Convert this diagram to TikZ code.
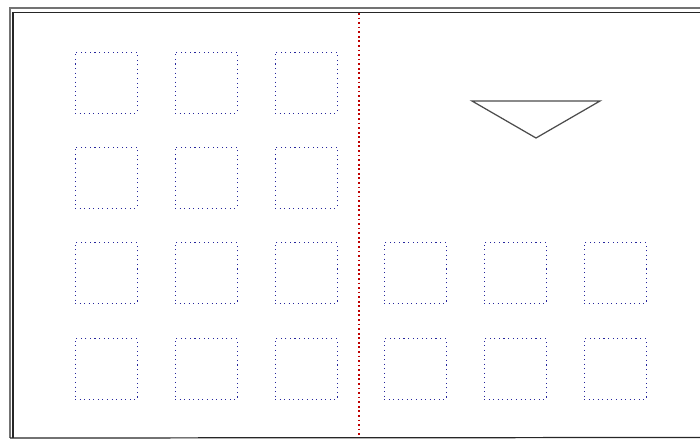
\documentclass[tikz,border=0pt]{standalone}
\usetikzlibrary{positioning}

\begin{document}
\begin{tikzpicture}[
  x=0.02cm,y=-0.02cm,
  cell/.style={draw=blue!55!black!85,line width=0.55pt,
    dash pattern=on 0.6pt off 2pt,
    minimum width=1.24cm,minimum height=1.22cm,inner sep=0pt},
  frame/.style={draw=black!85,line width=0.7pt},
  outerframe/.style={draw=black!55,line width=0.9pt},
  divider/.style={draw=red!75!black,line width=1pt,
    dash pattern=on 1pt off 1.6pt},
  roof/.style={draw=black!70,line width=0.7pt}]
\useasboundingbox (0,0) rectangle (700,442);

% frame corners
\coordinate (otl) at (10,8);
\coordinate (otr) at (700,8);
\coordinate (obl) at (10,438);
\coordinate (itl) at (13,12.5);
\coordinate (itr) at (700,12.5);
\coordinate (ibl) at (13,437.5);
\coordinate (ibr) at (700,437.5);
\draw[outerframe] (obl)--(otl)--(otr);
\draw[frame] (ibl)--(itl)--(itr);
\draw[frame] (obl)--(ibr);

% left block
\node[cell] (a1) at (106,82.5) {};
\node[cell] (a2) at (206,82.5) {};
\node[cell] (a3) at (306,82.5) {};
\node[cell] (a4) at (106,177.5) {};
\node[cell] (a5) at (206,177.5) {};
\node[cell] (a6) at (306,177.5) {};
\node[cell] (a7) at (106,273) {};
\node[cell] (a8) at (206,273) {};
\node[cell] (a9) at (306,273) {};
\node[cell] (a10) at (106,369) {};
\node[cell] (a11) at (206,369) {};
\node[cell] (a12) at (306,369) {};

% right block
\node[cell] (b1) at (415,273) {};
\node[cell] (b2) at (515,273) {};
\node[cell] (b3) at (615,273) {};
\node[cell] (b4) at (415,369) {};
\node[cell] (b5) at (515,369) {};
\node[cell] (b6) at (615,369) {};

% divider
\coordinate (dtop) at (359,13);
\coordinate (dbot) at (359,437);
\draw[divider] (dtop)--(dbot);

% triangle
\coordinate (rl) at (472,101);
\coordinate (rr) at (600,101);
\coordinate (rtip) at (536,138);
\draw[roof] (rl)--(rr)--(rtip)--cycle;
\end{tikzpicture}
\end{document}
